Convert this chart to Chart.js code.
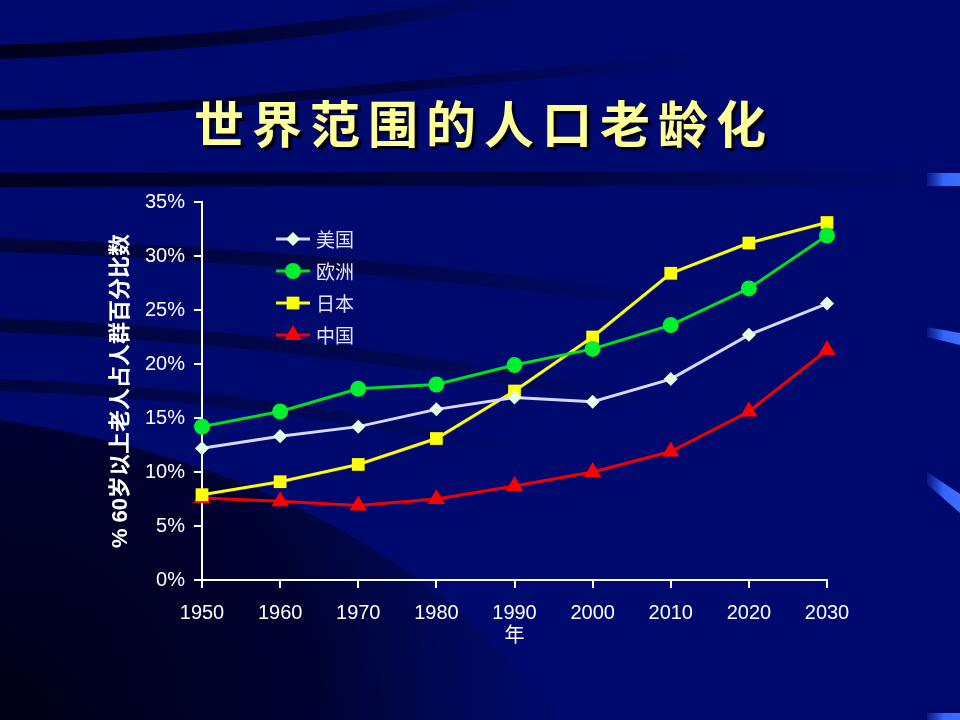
<!DOCTYPE html>
<html>
<head>
<meta charset="utf-8">
<title>世界范围的人口老龄化</title>
<script src="https://cdn.jsdelivr.net/npm/chart.js@4.4.1/dist/chart.umd.min.js"></script>
<style>
  html, body { margin: 0; padding: 0; background: #000a6e; }
  #wrap { position: relative; width: 960px; height: 720px; overflow: hidden; }
  #chart { position: absolute; left: 0; top: 0; }
  #title {
    position: absolute; left: 4px; top: 85px; width: 960px; margin: 0;
    text-align: center; z-index: 2;
    font-family: "Noto Sans CJK SC", sans-serif; font-weight: 700;
    font-size: 50px; line-height: 72px; letter-spacing: 8px;
    color: #ffff99; text-shadow: 3px 3px 2px #000;
  }
</style>
</head>
<body>
<div id="wrap">
  <canvas id="chart" width="960" height="720"></canvas>
  <h1 id="title">世界范围的人口老龄化</h1>
</div>
<script>
// Daten (Prozent der Bevölkerung ab 60)
const years = ["1950", "1960", "1970", "1980", "1990", "2000", "2010", "2020", "2030"];
const usa = [12.2, 13.3, 14.2, 15.8, 16.9, 16.5, 18.6, 22.7, 25.6];
const europe = [14.2, 15.6, 17.7, 18.1, 19.9, 21.4, 23.6, 27.0, 31.9];
const japan = [7.9, 9.1, 10.7, 13.1, 17.5, 22.5, 28.4, 31.2, 33.1];
const china = [7.6, 7.3, 6.9, 7.5, 8.7, 10.0, 11.9, 15.6, 21.3];
const seriesNames = ["美国", "欧洲", "日本", "中国"];
const yTicks = [0, 5, 10, 15, 20, 25, 30, 35];

const FONT = '"Liberation Sans", Arial, "Noto Sans CJK SC", sans-serif';

// Hintergrund wie auf der Folie
function band(ctx, pts, w, alpha) {
  ctx.beginPath();
  ctx.moveTo(pts[0][0], pts[0][1]);
  ctx.bezierCurveTo(pts[1][0], pts[1][1], pts[2][0], pts[2][1], pts[3][0], pts[3][1]);
  const g = ctx.createLinearGradient(pts[0][0], 0, pts[3][0], 0);
  g.addColorStop(0, "rgba(0,0,18," + alpha + ")");
  g.addColorStop(0.6, "rgba(0,0,18," + alpha * 0.6 + ")");
  g.addColorStop(1, "rgba(0,0,18,0)");
  ctx.strokeStyle = g;
  ctx.lineWidth = w;
  ctx.stroke();
}

function blueBar(ctx, x0, x1, yl0, yl1, yr0, yr1) {
  const g = ctx.createLinearGradient(x0, 0, x1, 0);
  g.addColorStop(0, "rgba(40,80,230,0.2)");
  g.addColorStop(0.5, "#3366ff");
  g.addColorStop(1, "#3f6dff");
  ctx.fillStyle = g;
  ctx.beginPath();
  ctx.moveTo(x0, yl0); ctx.lineTo(x1, yr0); ctx.lineTo(x1, yr1); ctx.lineTo(x0, yl1);
  ctx.closePath();
  ctx.fill();
}

const backdrop = {
  id: "backdrop",
  beforeDraw(chart) {
    const { ctx, width, height } = chart;
    ctx.save();
    ctx.fillStyle = "#000a6e";
    ctx.fillRect(0, 0, width, height);

    // dunkle Ecke unten links
    const rg = ctx.createRadialGradient(0, 720, 40, 0, 720, 560);
    rg.addColorStop(0, "rgba(0,0,20,0.95)");
    rg.addColorStop(0.55, "rgba(0,0,25,0.7)");
    rg.addColorStop(1, "rgba(0,0,40,0)");
    ctx.fillStyle = rg;
    ctx.beginPath();
    ctx.moveTo(0, 420);
    ctx.bezierCurveTo(200, 450, 420, 530, 560, 720);
    ctx.lineTo(0, 720);
    ctx.closePath();
    ctx.fill();

    band(ctx, [[0, 52], [200, 45], [380, 25], [520, -5]], 14, 0.9);
    band(ctx, [[0, 115], [200, 110], [450, 80], [700, 60]], 10, 0.8);
    band(ctx, [[0, 180], [300, 178], [600, 176], [930, 178]], 14, 0.85);
    band(ctx, [[0, 245], [200, 252], [400, 266], [700, 305]], 14, 0.6);
    band(ctx, [[0, 325], [200, 333], [420, 355], [650, 405]], 14, 0.55);
    band(ctx, [[0, 385], [150, 390], [300, 405], [520, 450]], 12, 0.5);

    blueBar(ctx, 927, 960, 173, 186, 173, 186);
    blueBar(ctx, 927, 960, 327, 337, 333, 345);
    blueBar(ctx, 927, 960, 472, 484, 494, 513);
    blueBar(ctx, 927, 960, 713, 720, 713, 720);
    ctx.restore();
  }
};

// Legende innerhalb der Zeichenfläche
const insideLegend = {
  id: "insideLegend",
  afterDraw(chart) {
    const { ctx, chartArea } = chart;
    const x0 = chartArea.left + 74;
    ctx.save();
    chart.data.datasets.forEach((ds, i) => {
      const y = chartArea.top + 37 + i * 32;
      ctx.strokeStyle = ds.borderColor;
      ctx.lineWidth = 3;
      ctx.beginPath();
      ctx.moveTo(x0, y); ctx.lineTo(x0 + 34, y);
      ctx.stroke();
      ctx.fillStyle = ds.pointBackgroundColor;
      ctx.strokeStyle = ds.pointBorderColor;
      Chart.helpers.drawPoint(ctx, { pointStyle: ds.pointStyle, radius: ds.pointRadius, rotation: 0, borderWidth: 0 }, x0 + 17, y);
      ctx.fillStyle = "#e4e4ff";
      ctx.font = '19px "Noto Sans CJK SC", sans-serif';
      ctx.textAlign = "left";
      ctx.textBaseline = "middle";
      ctx.fillText(ds.label, x0 + 40, y + 1);
    });
    ctx.restore();
  }
};

function line(label, data, color, pointColor, style, r) {
  return {
    label: label,
    data: data,
    borderColor: color,
    borderWidth: 3,
    pointStyle: style,
    pointRadius: r,
    pointHoverRadius: r,
    pointBackgroundColor: pointColor,
    pointBorderColor: pointColor,
    pointBorderWidth: 0,
    tension: 0,
    fill: false
  };
}

new Chart(document.getElementById("chart"), {
  type: "line",
  data: {
    labels: years,
    datasets: [
      line(seriesNames[0], usa, "#d8d8f8", "#e6ffe6", "rectRot", 7),
      line(seriesNames[1], europe, "#00e020", "#00f030", "circle", 8),
      line(seriesNames[2], japan, "#ffff00", "#ffff00", "rect", 9),
      line(seriesNames[3], china, "#ee0000", "#ff0000", "triangle", 10)
    ]
  },
  options: {
    responsive: false,
    animation: false,
    layout: { padding: { left: 106, right: 133, top: 202, bottom: 74 } },
    plugins: {
      legend: { display: false },
      title: { display: false },
      tooltip: { enabled: false }
    },
    scales: {
      x: {
        offset: false,
        border: { color: "#ffffff", width: 2 },
        grid: { display: true, drawOnChartArea: false, drawTicks: true, tickLength: 8, color: "#ffffff", lineWidth: 2 },
        ticks: { color: "#ffffff", padding: 13, maxRotation: 0, font: { family: FONT, size: 20 } },
        title: { display: true, text: "年", color: "#ffffff", padding: { top: -16, bottom: 0 },
                 font: { family: '"Noto Sans CJK SC", sans-serif', size: 20 } }
      },
      y: {
        min: 0,
        max: 35,
        afterFit(scale) { scale.width = 96; },
        afterBuildTicks(scale) { scale.ticks = yTicks.map(v => ({ value: v })); },
        border: { color: "#ffffff", width: 2 },
        grid: { display: true, drawOnChartArea: false, drawTicks: true, tickLength: 8, color: "#ffffff", lineWidth: 2 },
        ticks: { color: "#ffffff", padding: 9, font: { family: FONT, size: 20 }, callback: v => v + "%" },
        title: { display: true, text: "% 60岁以上老人占人群百分比数", color: "#ffffff",
                 padding: { top: 2, bottom: 4 },
                 font: { family: FONT, size: 22, weight: "bold" } }
      }
    }
  },
  plugins: [backdrop, insideLegend]
});
</script>
</body>
</html>
